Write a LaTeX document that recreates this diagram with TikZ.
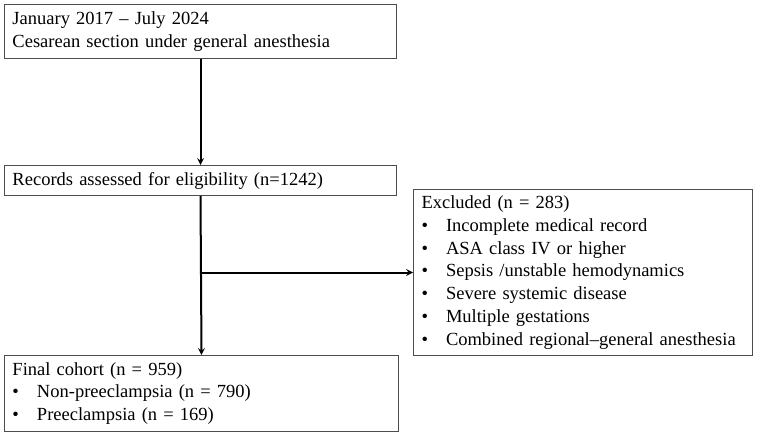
\documentclass[tikz,border=0pt]{standalone}
\usepackage{fontspec}
\setmainfont{Liberation Serif}
\usetikzlibrary{positioning, arrows}

\newcommand{\itm}[1]{\makebox[24.5pt][l]{\textbullet}#1}

\begin{document}
\begin{tikzpicture}[
        x=1pt, y=-1pt,
        box/.style={draw=black!70, line width=1pt, rectangle, anchor=north west, align=left, inner xsep=8pt, inner ysep=0pt, font=\fontsize{18.5}{22.8}\selectfont},
        arrow/.style={-stealth, line width=2pt}
    ]
        \useasboundingbox (0,0) rectangle (757,438);
        % Nodes
        \node[box, text width=376pt, minimum height=54pt] (source) at (4,4) {January 2017 -- July 2024\\Cesarean section under general anesthesia};
        \node[box, text width=376pt, minimum height=30pt] (records) at (4,165) {Records assessed for eligibility (n=1242)};
        \node[box, text width=323pt, minimum height=166pt] (excluded) at (413,189) {Excluded (n = 283)\\\itm{Incomplete medical record}\\\itm{ASA class IV or higher}\\\itm{Sepsis /unstable hemodynamics}\\\itm{Severe systemic disease}\\\itm{Multiple gestations}\\\itm{Combined regional--general anesthesia}};
        \node[box, text width=378pt, minimum height=76pt] (cohort) at (4,355) {Final cohort (n = 959)\\\itm{Non-preeclampsia (n = 790)}\\\itm{Preeclampsia (n = 169)}};
        \coordinate (split) at (records.south |- excluded.west);

        % Arrows
        \draw[arrow] (source.south) -- (records.north);
        \draw[arrow] (records.south) -- (cohort.north);
        \draw[arrow] (split) -- (excluded.west);
    \end{tikzpicture}
\end{document}
